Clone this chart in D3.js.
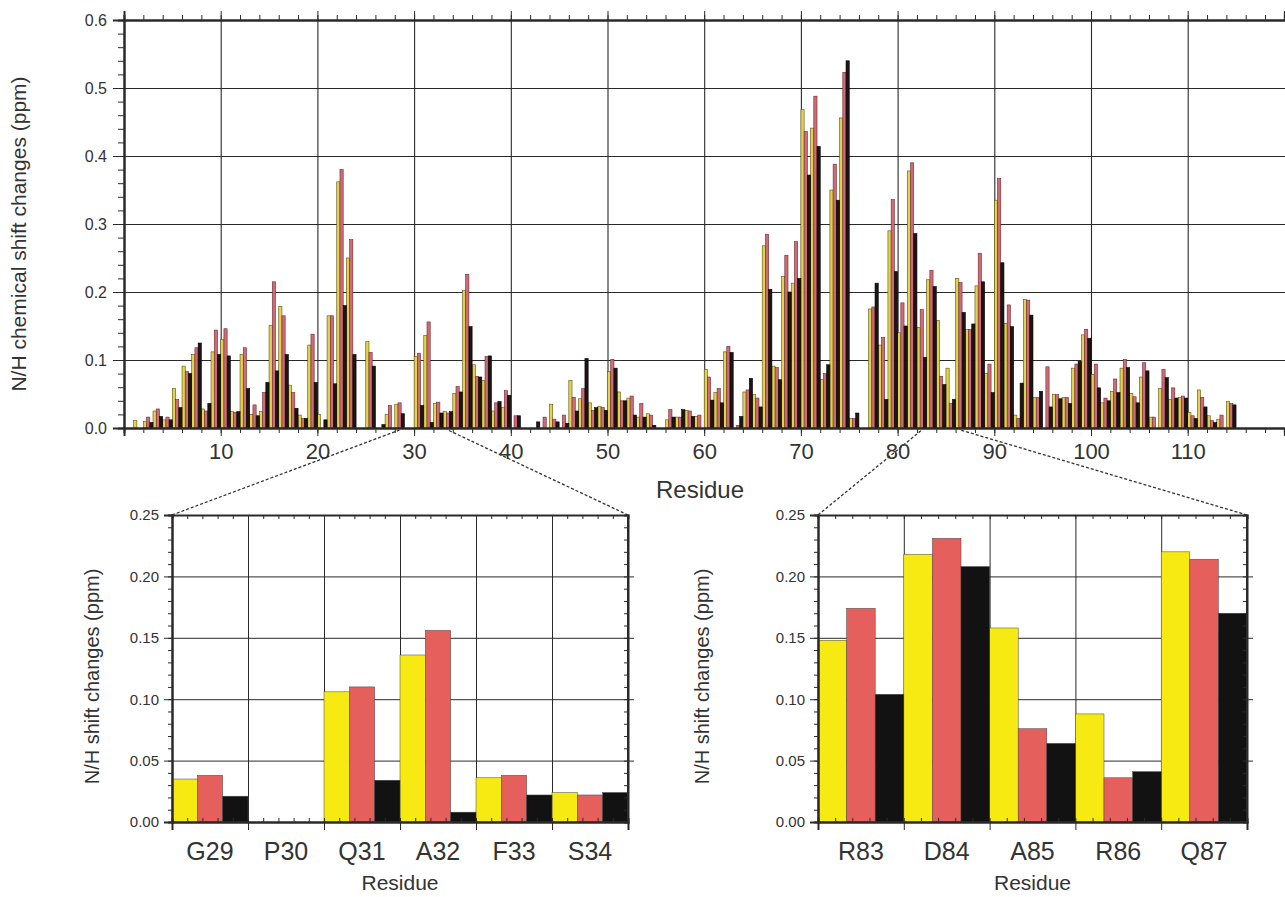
<!DOCTYPE html>
<html>
<head>
<meta charset="utf-8">
<script src="https://cdn.jsdelivr.net/npm/d3@7"></script>
<style>
  body { margin: 0; background: #fff; }
  text { font-family: "Liberation Sans", Arial, sans-serif; fill: #333; }
</style>
</head>
<body>
<svg id="chart" width="1285" height="897"></svg>
<script>
// N/H shift changes per residue (1..115), three conditions
const residues = d3.range(1, 116);
const yellowShift = [
  0, 0.011, 0.010, 0.025, 0.012, 0.058, 0.091, 0.108, 0.028, 0.112,
  0.130, 0.024, 0.108, 0.020, 0.024, 0.151, 0.179, 0.063, 0.019, 0.122,
  0.020, 0.165, 0.362, 0.250, 0, 0.127, 0, 0.020, 0.035, 0,
  0.105, 0.136, 0.036, 0.024, 0.051, 0.202, 0.093, 0.070, 0.025, 0.030,
  0, 0, 0, 0, 0.035, 0, 0.070, 0.043, 0.037, 0.032,
  0.083, 0.053, 0.044, 0.016, 0.021, 0, 0.012, 0.016, 0.026, 0.017,
  0.086, 0.052, 0.112, 0, 0.053, 0.049, 0.268, 0.091, 0.223, 0.213,
  0.468, 0.441, 0.071, 0.350, 0.456, 0.014, 0, 0.175, 0.122, 0.290,
  0.140, 0.378, 0.148, 0.218, 0.158, 0.088, 0.220, 0.145, 0.209, 0.080,
  0.335, 0.154, 0.019, 0.189, 0.045, 0, 0.049, 0.045, 0.088, 0.137,
  0.079, 0.037, 0.054, 0.088, 0.051, 0.075, 0.016, 0.058, 0.042, 0.045,
  0.023, 0.056, 0.018, 0.013, 0.039
];
const redShift = [
  0, 0, 0.016, 0.028, 0.016, 0.042, 0.083, 0.118, 0.025, 0.144,
  0.146, 0.023, 0.118, 0.034, 0.052, 0.215, 0.165, 0.052, 0.014, 0.138,
  0, 0.165, 0.380, 0.277, 0, 0.111, 0, 0.033, 0.037, 0,
  0.110, 0.156, 0.038, 0.022, 0.061, 0.226, 0.076, 0.105, 0.037, 0.055,
  0.018, 0, 0, 0.016, 0.013, 0.019, 0.045, 0.058, 0.026, 0.030,
  0.101, 0.040, 0.047, 0.036, 0.019, 0, 0.027, 0.016, 0.025, 0.019,
  0.075, 0.058, 0.120, 0.004, 0.056, 0.044, 0.285, 0.089, 0.254, 0.274,
  0.436, 0.488, 0.080, 0.388, 0.523, 0.014, 0, 0.178, 0.133, 0.336,
  0.184, 0.390, 0.174, 0.232, 0.076, 0.036, 0.214, 0.145, 0.257, 0.094,
  0.367, 0.181, 0.014, 0.188, 0.045, 0.090, 0.049, 0.045, 0.094, 0.145,
  0.094, 0.044, 0.072, 0.101, 0.046, 0.096, 0.016, 0.086, 0.059, 0.047,
  0.018, 0.045, 0.011, 0.019, 0.036
];
const blackShift = [
  0, 0, 0.008, 0.017, 0.012, 0.030, 0.080, 0.125, 0.036, 0.108,
  0.106, 0.024, 0.058, 0.018, 0.067, 0.084, 0.108, 0.029, 0.014, 0.067,
  0.012, 0.065, 0.180, 0.108, 0, 0.091, 0.005, 0, 0.021, 0,
  0.033, 0.008, 0.022, 0.024, 0.053, 0.149, 0.075, 0.106, 0.039, 0.048,
  0.018, 0, 0.009, 0, 0.009, 0.007, 0.025, 0.102, 0.030, 0.026,
  0.088, 0.040, 0.019, 0.016, 0.004, 0, 0.016, 0.027, 0.017, 0,
  0.041, 0.037, 0.111, 0.017, 0.073, 0.031, 0.204, 0.071, 0.200, 0.220,
  0.372, 0.414, 0.093, 0.335, 0.540, 0.022, 0, 0.213, 0.042, 0.230,
  0.150, 0.286, 0.104, 0.208, 0.064, 0.042, 0.170, 0.153, 0.215, 0.052,
  0.243, 0.149, 0.066, 0.166, 0.054, 0.031, 0.043, 0.036, 0.098, 0.132,
  0.059, 0.040, 0.052, 0.089, 0.037, 0.084, 0, 0.074, 0.044, 0.044,
  0.014, 0.031, 0.008, 0, 0.034
];
const mainYTicks = [0, 0.1, 0.2, 0.3, 0.4, 0.5, 0.6];
const mainXTicks = [10, 20, 30, 40, 50, 60, 70, 80, 90, 100, 110];

// zoomed panels
const zoomALabels = ["G29", "P30", "Q31", "A32", "F33", "S34"];
const zoomAYellow = [0.035, 0, 0.106, 0.136, 0.036, 0.024];
const zoomARed    = [0.038, 0, 0.110, 0.156, 0.038, 0.022];
const zoomABlack  = [0.021, 0, 0.034, 0.008, 0.022, 0.024];

const zoomBLabels = ["R83", "D84", "A85", "R86", "Q87"];
const zoomBYellow = [0.148, 0.218, 0.158, 0.088, 0.220];
const zoomBRed    = [0.174, 0.231, 0.076, 0.036, 0.214];
const zoomBBlack  = [0.104, 0.208, 0.064, 0.041, 0.170];

const insetYTicks = [0, 0.05, 0.10, 0.15, 0.20, 0.25];

const svg = d3.select("#chart");

// ---------- main chart ----------
const mainColors = ["#e2d24c", "#cc6c76", "#1e1414"];
const mainStroke = ["#5e501a", "#6e2a30", "#000"];
const x = d3.scaleLinear().domain([0, 120]).range([124, 1284.4]);
const y = d3.scaleLinear().domain([0, 0.6]).range([428, 20]);

// gridlines
svg.append("g")
  .attr("transform", "translate(0,428)")
  .call(d3.axisBottom(x).tickValues(mainXTicks).tickSize(-408).tickFormat(""))
  .call(g => g.select(".domain").remove())
  .selectAll("line").attr("stroke", "#555").attr("stroke-width", 1.1);
svg.append("g")
  .attr("transform", "translate(124,0)")
  .call(d3.axisLeft(y).tickValues(mainYTicks.slice(1)).tickSize(-1161).tickFormat(""))
  .call(g => g.select(".domain").remove())
  .selectAll("line").attr("stroke", "#666").attr("stroke-width", 1.1);

// bars
const series = [yellowShift, redShift, blackShift];
const bw = x(1) - x(0);
const sub = d3.scaleBand().domain([0, 1, 2]).range([0, bw]);
series.forEach((vals, s) => {
  svg.append("g").selectAll("rect")
    .data(residues)
    .join("rect")
    .filter((r, i) => vals[i] > 0)
    .attr("x", r => x(r - 1) + sub(s))
    .attr("y", (r) => y(vals[r - 1]))
    .attr("width", sub.bandwidth())
    .attr("height", r => y(0) - y(vals[r - 1]))
    .attr("fill", mainColors[s])
    .attr("stroke", mainStroke[s])
    .attr("stroke-width", 0.6);
});

// axes
const leftMajor = svg.append("g")
  .attr("transform", "translate(124,0)")
  .call(d3.axisLeft(y).tickValues(mainYTicks).tickSize(11).tickPadding(6).tickFormat(d3.format(".1f")));
leftMajor.selectAll("text").style("font-size", "16px");
svg.append("g")
  .attr("transform", "translate(124,0)")
  .call(d3.axisLeft(y).ticks(30).tickSize(6).tickFormat(""));
svg.append("g")
  .attr("transform", "translate(0,20)")
  .call(d3.axisTop(x).tickValues(d3.range(0, 121, 2)).tickSize(5).tickFormat(""));
svg.append("g")
  .attr("transform", "translate(0,20)")
  .call(d3.axisTop(x).tickValues(mainXTicks).tickSize(9).tickFormat(""));
svg.append("g")
  .attr("transform", "translate(0,428)")
  .call(d3.axisBottom(x).tickValues(d3.range(0, 121, 2)).tickSize(5).tickFormat(""));
const bottomMajor = svg.append("g")
  .attr("transform", "translate(0,428)")
  .call(d3.axisBottom(x).tickValues(mainXTicks).tickSize(8).tickPadding(7));
bottomMajor.selectAll("text").style("font-size", "22px");

svg.selectAll(".domain").attr("stroke", "#2a2a2a").attr("stroke-width", 2);

svg.append("text")
  .attr("text-anchor", "middle")
  .attr("x", 700).attr("y", 498)
  .style("font-size", "24px")
  .text("Residue");
svg.append("text")
  .attr("text-anchor", "middle")
  .attr("transform", "translate(26,234) rotate(-90)")
  .style("font-size", "21px")
  .text("N/H chemical shift changes (ppm)");

// ---------- zoom panels ----------
const insetColors = ["#f7ea12", "#e5605c", "#121212"];
function drawInset(left, right, labels, ys, rs, ks, ylabelX) {
  const top = 515, bottom = 822;
  const xb = d3.scaleBand().domain(labels).range([left, right]);
  const xl = d3.scaleLinear().domain([0, labels.length]).range([left, right]);
  const yi = d3.scaleLinear().domain([0, 0.25]).range([bottom, top]);
  const g = svg.append("g");

  // grid
  g.append("g")
    .attr("transform", `translate(0,${bottom})`)
    .call(d3.axisBottom(xl).tickValues(d3.range(1, labels.length)).tickSize(-(bottom - top)).tickFormat(""))
    .call(a => a.select(".domain").remove())
    .selectAll("line").attr("stroke", "#666").attr("stroke-width", 1);
  g.append("g")
    .attr("transform", `translate(${left},0)`)
    .call(d3.axisLeft(yi).tickValues(insetYTicks.slice(1, 5)).tickSize(-(right - left + 6)).tickFormat(""))
    .call(a => a.select(".domain").remove())
    .selectAll("line").attr("stroke", "#777").attr("stroke-width", 1);

  // bars
  const inner = d3.scaleBand().domain([0, 1, 2]).range([0, xb.bandwidth()]);
  [ys, rs, ks].forEach((vals, s) => {
    g.append("g").selectAll("rect")
      .data(labels)
      .join("rect")
      .filter((d, i) => vals[i] > 0)
      .attr("x", d => xb(d) + inner(s))
      .attr("y", d => yi(vals[labels.indexOf(d)]))
      .attr("width", inner.bandwidth())
      .attr("height", d => yi(0) - yi(vals[labels.indexOf(d)]))
      .attr("fill", insetColors[s])
      .attr("stroke", "#444")
      .attr("stroke-width", 0.5);
  });

  // axes
  const la = g.append("g")
    .attr("transform", `translate(${left},0)`)
    .call(d3.axisLeft(yi).tickValues(insetYTicks).tickSize(8).tickPadding(5).tickFormat(d3.format(".2f")));
  la.selectAll("text").style("font-size", "15px");
  g.append("g")
    .attr("transform", `translate(${left},0)`)
    .call(d3.axisLeft(yi).ticks(25).tickSize(4).tickFormat(""));
  g.append("g")
    .attr("transform", `translate(${right},0)`)
    .call(d3.axisLeft(yi).ticks(25).tickSize(4).tickFormat(""));
  g.append("g")
    .attr("transform", `translate(0,${top})`)
    .call(d3.axisBottom(xl).tickValues(d3.range(0, labels.length + 0.01, 0.2)).tickSize(4).tickFormat(""));
  g.append("g")
    .attr("transform", `translate(0,${bottom})`)
    .call(d3.axisTop(xl).tickValues(d3.range(0, labels.length + 0.01, 0.2)).tickSize(4).tickFormat(""));
  g.append("g")
    .attr("transform", `translate(0,${bottom})`)
    .call(d3.axisBottom(xl).tickValues(d3.range(0, labels.length + 1)).tickSize(8).tickFormat(""));
  g.selectAll(".domain").attr("stroke", "#2a2a2a").attr("stroke-width", 2);
  // right border
  g.append("line")
    .attr("x1", right).attr("x2", right).attr("y1", top).attr("y2", bottom)
    .attr("stroke", "#2a2a2a").attr("stroke-width", 2);

  // category labels
  g.append("g").selectAll("text")
    .data(labels)
    .join("text")
    .attr("text-anchor", "middle")
    .attr("x", d => xb(d) + xb.bandwidth() / 2)
    .attr("y", 860)
    .style("font-size", "25px")
    .text(d => d);

  g.append("text")
    .attr("text-anchor", "middle")
    .attr("x", (left + right) / 2).attr("y", 890)
    .style("font-size", "21px")
    .text("Residue");
  g.append("text")
    .attr("text-anchor", "middle")
    .attr("transform", `translate(${ylabelX},${(top + bottom) / 2 + 8}) rotate(-90)`)
    .style("font-size", "20px")
    .text("N/H shift changes (ppm)");

  // dotted connectors to the residues in the main chart
  const first = +labels[0].slice(1), last = +labels[labels.length - 1].slice(1);
  [[left, x(first - 0.5)], [right, x(last - 0.5)]].forEach(([px, mx]) => {
    svg.append("line")
      .attr("x1", px).attr("y1", top)
      .attr("x2", mx).attr("y2", 430)
      .attr("stroke", "#333").attr("stroke-width", 1.3)
      .attr("stroke-dasharray", "3,2");
  });
}

drawInset(172, 628, zoomALabels, zoomAYellow, zoomARed, zoomABlack, 99);
drawInset(818, 1247, zoomBLabels, zoomBYellow, zoomBRed, zoomBBlack, 709);

svg.selectAll(".tick line").attr("stroke", "#2a2a2a");
</script>
</body>
</html>
